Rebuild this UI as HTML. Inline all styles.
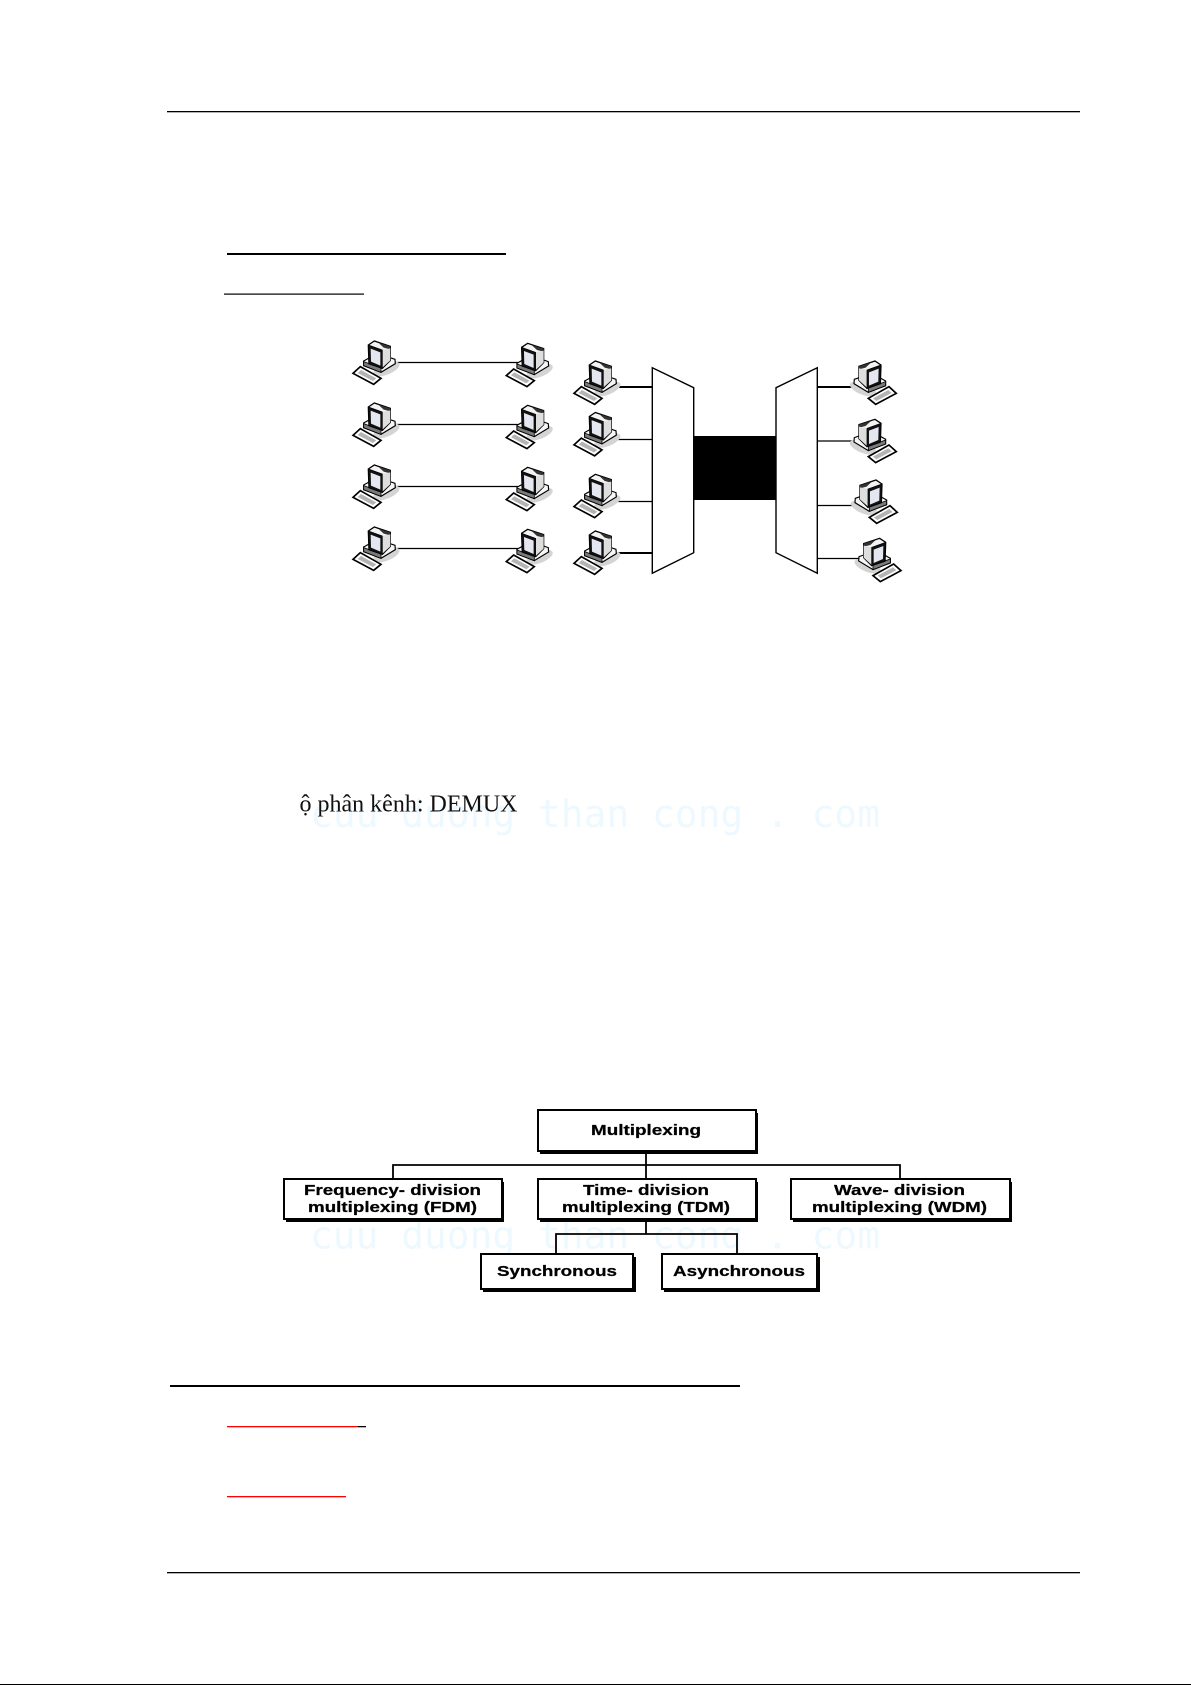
<!DOCTYPE html>
<html><head><meta charset="utf-8"><style>
html,body{margin:0;padding:0;background:#fff;width:1191px;height:1685px;overflow:hidden}
svg{display:block}
</style></head><body>
<svg xmlns="http://www.w3.org/2000/svg" width="1191" height="1685" viewBox="0 0 1191 1685">
<defs>
<g id="pc">
<ellipse cx="124" cy="102" rx="42" ry="17" fill="#d4d4d4" transform="rotate(-22 124 102)"/>
<polygon points="56,78 74,68 118,62 150,73 151,86 108,112 56,92" fill="#f6f6f6" stroke="#000" stroke-width="3.5"/>
<polygon points="56,80 108,99 108,112 56,92" fill="#7a7a7a" stroke="#000" stroke-width="2.5"/>
<polygon points="70,30 88,18 136,34 136,76 112,100 72,86" fill="#f4f4f4" stroke="#000" stroke-width="4"/>
<polygon points="100,23 136,34 136,43 116,38" fill="#333"/>
<polygon points="112,45 136,40 136,76 112,98" fill="#dedede"/>
<polygon points="70,30 112,45 112,100 72,86" fill="#111" stroke="#000" stroke-width="2"/>
<polygon points="77,41 106,52 106,92 78,80" fill="#e4e6f0"/>
<polygon points="24,115 46,95 108,130 86,148" fill="#fff" stroke="#000" stroke-width="5"/>
<polygon points="38,114 48,105 94,130 84,138" fill="#b4b4b4"/>
</g>
</defs>

<rect x="167" y="111" width="913" height="1.3" fill="#000"/>
<rect x="227" y="253" width="279" height="2" fill="#000"/>
<rect x="224" y="293.5" width="140" height="1.2" fill="#000"/>

<text x="310" y="827" font-family="'DejaVu Sans Mono','Liberation Mono',monospace" font-size="38" fill="#edf9ff" textLength="570" lengthAdjust="spacingAndGlyphs">cuu duong than cong . com</text>
<text x="310" y="1248.5" font-family="'DejaVu Sans Mono','Liberation Mono',monospace" font-size="38" fill="#edf9ff" textLength="570" lengthAdjust="spacingAndGlyphs">cuu duong than cong . com</text>

<g stroke="#000" stroke-width="1.3" fill="none">
<line x1="395" y1="362.5" x2="518" y2="362.5"/>
<line x1="395" y1="424.5" x2="518" y2="424.5"/>
<line x1="395" y1="486.5" x2="518" y2="486.5"/>
<line x1="395" y1="548.5" x2="518" y2="548.5"/>
<line x1="616" y1="439.5" x2="652" y2="439.5"/>
<line x1="616" y1="501.5" x2="652" y2="501.5"/>
<line x1="817" y1="441" x2="856" y2="441"/>
<line x1="817" y1="505.5" x2="856" y2="505.5"/>
<line x1="817" y1="558.5" x2="860" y2="558.5"/>
</g>
<g stroke="#000" stroke-width="2" fill="none">
<line x1="616" y1="387" x2="652" y2="387"/>
<line x1="616" y1="553" x2="652" y2="553"/>
<line x1="817" y1="387" x2="856" y2="387"/>
</g>

<use href="#pc" transform="translate(345,335) scale(.3333)"/>
<use href="#pc" transform="translate(345,397) scale(.3333)"/>
<use href="#pc" transform="translate(345,459) scale(.3333)"/>
<use href="#pc" transform="translate(345,521) scale(.3333)"/>
<use href="#pc" transform="translate(498.3,337.3) scale(.3333)"/>
<use href="#pc" transform="translate(498.3,399.3) scale(.3333)"/>
<use href="#pc" transform="translate(498.3,461.3) scale(.3333)"/>
<use href="#pc" transform="translate(498.3,523.3) scale(.3333)"/>
<use href="#pc" transform="translate(566,355) scale(.3333)"/>
<use href="#pc" transform="translate(566,406.5) scale(.3333)"/>
<use href="#pc" transform="translate(566,468.3) scale(.3333)"/>
<use href="#pc" transform="translate(566,525) scale(.3333)"/>
<use href="#pc" transform="translate(904.3,355) scale(-.3333,.3333)"/>
<use href="#pc" transform="translate(904.3,413.3) scale(-.3333,.3333)"/>
<use href="#pc" transform="translate(905.3,474) scale(-.3333,.3333)"/>
<use href="#pc" transform="translate(909,532.3) scale(-.3333,.3333)"/>

<rect x="693.5" y="436" width="83" height="64" fill="#000"/>
<polygon points="652.3,367.7 693.7,387.7 693.7,552.7 652.3,573.3" fill="#fff" stroke="#000" stroke-width="1.4"/>
<polygon points="817.3,367.7 776,387.7 776,552.7 817.3,573.3" fill="#fff" stroke="#000" stroke-width="1.4"/>

<text x="299.5" y="811.5" font-family="'Liberation Serif','Noto Serif CJK SC',serif" font-size="24.5" fill="#111" textLength="218" lengthAdjust="spacingAndGlyphs">ộ phân kênh: DEMUX</text>

<g stroke="#000" stroke-width="1.8" fill="none">
<path d="M646 1151V1179M393 1179V1165H900V1179"/>
<path d="M646 1219V1234M556 1254V1234H737V1254"/>
</g>
<g fill="#000">
<rect x="540" y="1113" width="218" height="41"/>
<rect x="286" y="1182" width="218" height="40"/>
<rect x="540" y="1182" width="218" height="40"/>
<rect x="793" y="1182" width="219" height="40"/>
<rect x="483" y="1257" width="153" height="35"/>
<rect x="664" y="1257" width="156" height="35"/>
</g>
<g fill="#fff" stroke="#000" stroke-width="2">
<rect x="538" y="1110" width="218" height="41"/>
<rect x="284" y="1179" width="218" height="40"/>
<rect x="538" y="1179" width="218" height="40"/>
<rect x="791" y="1179" width="219" height="40"/>
<rect x="481" y="1254" width="152" height="35"/>
<rect x="662" y="1254" width="155" height="35"/>
</g>
<g font-family="'Liberation Sans',sans-serif" font-weight="bold" font-size="15" fill="#000" stroke="#000" stroke-width=".25">
<text x="591" y="1135" textLength="110" lengthAdjust="spacingAndGlyphs">Multiplexing</text>
<text x="304" y="1195" textLength="177" lengthAdjust="spacingAndGlyphs">Frequency- division</text>
<text x="308" y="1212" textLength="169" lengthAdjust="spacingAndGlyphs">multiplexing (FDM)</text>
<text x="583" y="1195" textLength="126" lengthAdjust="spacingAndGlyphs">Time- division</text>
<text x="562" y="1212" textLength="168" lengthAdjust="spacingAndGlyphs">multiplexing (TDM)</text>
<text x="834" y="1195" textLength="131" lengthAdjust="spacingAndGlyphs">Wave- division</text>
<text x="812" y="1212" textLength="175" lengthAdjust="spacingAndGlyphs">multiplexing (WDM)</text>
<text x="497" y="1276" textLength="120" lengthAdjust="spacingAndGlyphs">Synchronous</text>
<text x="673" y="1276" textLength="132" lengthAdjust="spacingAndGlyphs">Asynchronous</text>
</g>

<rect x="170" y="1385" width="570" height="2" fill="#000"/>
<rect x="227" y="1426" width="131" height="1.3" fill="#f00"/>
<rect x="358" y="1426" width="8" height="1.3" fill="#000"/>
<rect x="227" y="1496" width="119" height="1.3" fill="#f00"/>
<rect x="167" y="1572" width="913" height="1.3" fill="#000"/>
<rect x="0" y="1684" width="1191" height="1" fill="#000"/>
</svg>
</body></html>
